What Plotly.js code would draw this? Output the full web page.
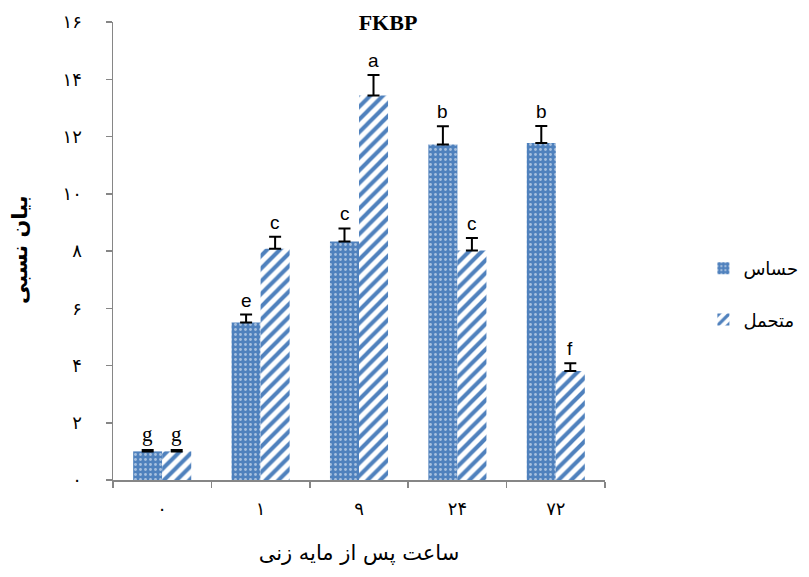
<!DOCTYPE html>
<html>
<head>
<meta charset="utf-8">
<script src="https://cdn.plot.ly/plotly-3.0.1.min.js"></script>
<style>
html,body{margin:0;padding:0;background:#fff;}
#chart{width:809px;height:577px;}
</style>
</head>
<body>
<div id="chart"></div>
<script>
// Data
var categories = ['۰', '۱', '۹', '۲۴', '۷۲'];
var seriesNames = ['حساس', 'متحمل'];
var sensitiveValues = [1.0, 5.5, 8.33, 11.72, 11.77];
var sensitiveErrors = [0.05, 0.28, 0.46, 0.64, 0.6];
var tolerantValues = [1.0, 8.08, 13.43, 8.02, 3.81];
var tolerantErrors = [0.05, 0.42, 0.72, 0.43, 0.27];
var sensitiveLetters = ['g', 'e', 'c', 'b', 'b'];
var tolerantLetters = ['g', 'c', 'a', 'c', 'f'];
var yTickVals = [0, 2, 4, 6, 8, 10, 12, 14, 16];
var yTickText = ['۰', '۲', '۴', '۶', '۸', '۱۰', '۱۲', '۱۴', '۱۶'];

var blue = '#4F81BD';

var traces = [
  {
    type: 'bar', name: seriesNames[0], x: categories, y: sensitiveValues, legendgroup: 's',
    marker: {color: blue, line: {width: 0},
      pattern: {shape: '.', fillmode: 'overlay', fgcolor: '#ffffff', bgcolor: blue, size: 5, solidity: 0.25}},
    error_y: {type: 'data', symmetric: false, array: sensitiveErrors, arrayminus: sensitiveErrors.map(function(){return 0;}),
      color: '#000000', thickness: 2, width: 6}
  },
  {
    type: 'bar', name: seriesNames[1], x: categories, y: tolerantValues, legendgroup: 't',
    marker: {color: blue, line: {width: 0},
      pattern: {shape: '/', fillmode: 'replace', fgcolor: blue, bgcolor: '#ffffff', size: 9, solidity: 0.45}},
    error_y: {type: 'data', symmetric: false, array: tolerantErrors, arrayminus: tolerantErrors.map(function(){return 0;}),
      color: '#000000', thickness: 2, width: 6}
  }
];

var annotations = [];
function letterFont(l) {
  return l === 'g' ? {family: 'Liberation Serif', size: 21, color: '#000'} : {family: 'Liberation Sans', size: 19, color: '#000'};
}
for (var i = 0; i < categories.length; i++) {
  annotations.push({x: categories[i], y: sensitiveValues[i] + sensitiveErrors[i], xref: 'x', yref: 'y',
    text: sensitiveLetters[i], showarrow: false, xshift: -14.5, yshift: 2, yanchor: 'bottom', font: letterFont(sensitiveLetters[i])});
  annotations.push({x: categories[i], y: tolerantValues[i] + tolerantErrors[i], xref: 'x', yref: 'y',
    text: tolerantLetters[i], showarrow: false, xshift: 14.5, yshift: 2, yanchor: 'bottom', font: letterFont(tolerantLetters[i])});
}
annotations.push({
  text: '<b>بیان نسبی</b>', xref: 'paper', yref: 'paper', x: (20 - 113) / 492, y: (480 - 250) / 458,
  textangle: -90, showarrow: false, xanchor: 'center', yanchor: 'middle',
  font: {family: 'DejaVu Sans', size: 21, color: '#000'}
});

var layout = {
  width: 809, height: 577,
  margin: {l: 113, r: 204, t: 22, b: 97, autoexpand: false},
  paper_bgcolor: '#fff', plot_bgcolor: '#fff',
  title: {text: '<b>FKBP</b>', font: {family: 'Liberation Serif', size: 22, color: '#000'},
    x: (388) / 809, xanchor: 'center', y: 1 - 22 / 577, yanchor: 'middle'},
  barmode: 'group', bargap: 0.41, bargroupgap: 0,
  showlegend: true,
  legend: {x: 1.2, y: (480 - 294) / 458, xanchor: 'left', yanchor: 'middle', tracegroupgap: 25,
    font: {family: 'DejaVu Sans', size: 18, color: '#000'}, itemwidth: 30, bgcolor: 'rgba(0,0,0,0)'},
  xaxis: {
    type: 'category', showgrid: false, zeroline: false,
    showline: true, linecolor: '#868686', linewidth: 1.5,
    ticks: 'outside', tickson: 'boundaries', ticklen: 6, tickcolor: '#868686', tickwidth: 1.5,
    tickfont: {family: 'DejaVu Sans', size: 18, color: '#000'}, ticklabelstandoff: 12,
    title: {text: 'ساعت پس از مایه زنی', font: {family: 'DejaVu Sans', size: 21, color: '#000'}, standoff: 27}
  },
  yaxis: {
    range: [0, 16], tickvals: yTickVals, ticktext: yTickText, showgrid: false, zeroline: false,
    showline: true, linecolor: '#868686', linewidth: 1.5,
    ticks: 'outside', ticklen: 6, tickcolor: '#868686', tickwidth: 1.5,
    tickfont: {family: 'DejaVu Sans', size: 18, color: '#000'}, ticklabelstandoff: 20
  },
  annotations: annotations
};

Plotly.newPlot('chart', traces, layout, {displayModeBar: false, staticPlot: true});
</script>
</body>
</html>
